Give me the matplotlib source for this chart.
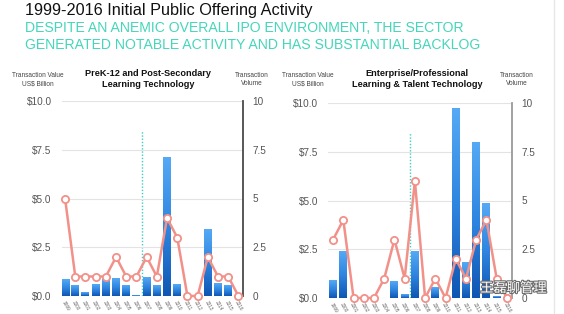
import numpy as np
import matplotlib
matplotlib.use("Agg")
import matplotlib.pyplot as plt
import matplotlib.patheffects as pe
from matplotlib.colors import LinearSegmentedColormap

plt.rcParams['font.family'] = ['Liberation Sans', 'DejaVu Sans']

years = [str(y) for y in range(1999, 2017)]

# PreK-12 and Post-Secondary Learning Technology
k12_value = [0.86, 0.56, 0.2, 0.6, 0.84, 0.9, 0.55, 0.05, 0.95, 0.55, 7.1, 0.6, 0.0, 0.0, 3.43, 0.65, 0.55, 0.0]
k12_volume = [5, 1, 1, 1, 1, 2, 1, 1, 2, 1, 4, 3, 0, 0, 2, 1, 1, 0]

# Enterprise/Professional Learning & Talent Technology
ent_value = [0.92, 2.4, 0.0, 0.0, 0.0, 0.0, 0.87, 0.2, 2.4, 0.0, 0.56, 0.0, 9.74, 1.83, 7.95, 4.85, 0.1, 0.0]
ent_volume = [3, 4, 0, 0, 0, 1, 3, 1, 6, 0, 1, 0, 2, 1, 3, 4, 1, 0]

divider_pos = 7.5
divider_top = 8.5

val_ticks = [0, 2.5, 5, 7.5, 10]
val_labels = ['$0.0', '$2.5', '$5.0', '$7.5', '$10.0']
vol_labels = ['0', '2.5', '5', '7.5', '10']

W, H = 564, 314
fig = plt.figure(figsize=(W / 100, H / 100), dpi=100)

cmap = LinearSegmentedColormap.from_list('bluegrad', ['#0f56b3', '#2f86e0', '#55a9f5'])


def px(x0, y0, x1, y1):
    return [x0 / W, 1 - y1 / H, (x1 - x0) / W, (y1 - y0) / H]


def panel(rect, values, volumes, spine_color, xlim):
    ax = fig.add_axes(rect)
    x = np.arange(len(years))
    grad = np.linspace(0, 1, 256).reshape(-1, 1)
    bw = 0.78
    bars = ax.bar(x, values, width=bw, color='#2a7fdc', zorder=2)
    for b, v in zip(bars, values):
        if v <= 0:
            continue
        ax.imshow(grad, extent=(b.get_x(), b.get_x() + bw, 0, v), origin='lower',
                  cmap=cmap, aspect='auto', zorder=2.1, interpolation='bilinear')
    ax.set_xlim(*xlim)
    ax.set_ylim(0, 10)
    ax.set_yticks(val_ticks)
    ax.set_yticklabels(val_labels)
    ax.grid(axis='y', color='#e3e3e3', linewidth=0.8, zorder=0)
    ax.tick_params(axis='y', length=0, pad=7, labelsize=7.2, labelcolor='#555555')
    ax.set_xticks(x)
    ax.set_xticklabels(years, rotation=-60, ha='left', va='top', rotation_mode='anchor')
    ax.tick_params(axis='x', length=0, pad=3, labelsize=3.4, labelcolor='#666666')
    for s in ['top', 'left', 'bottom', 'right']:
        ax.spines[s].set_visible(False)
    ax.vlines(divider_pos, 0, divider_top, colors='#3ccfc0', linestyles=(0, (1, 1.3)),
              linewidth=1.0, zorder=1.5)

    ax2 = ax.twinx()
    ax2.set_ylim(0, 10)
    ax2.set_xlim(*xlim)
    ax2.set_yticks(val_ticks)
    ax2.set_yticklabels(vol_labels)
    ax2.tick_params(axis='y', length=0, pad=7, labelsize=7.2, labelcolor='#555555')
    for s in ['top', 'left', 'bottom']:
        ax2.spines[s].set_visible(False)
    ax2.spines['right'].set_color(spine_color)
    ax2.spines['right'].set_linewidth(1.3)
    ax2.plot(x, volumes, color='#f29189', linewidth=1.8, marker='o', markersize=5.2,
             markerfacecolor='white', markeredgecolor='#f29189', markeredgewidth=1.3,
             clip_on=False, zorder=3)
    return ax, ax2


panel(px(61.5, 101, 243, 296), k12_value, k12_volume, '#4a4a4a', (-0.35, 17.45))
panel(px(328, 103, 512, 298), ent_value, ent_volume, '#9a9a9a', (-0.5, 17.5))

# titles
fig.text(25 / W, 1 - 10 / H, '1999-2016 Initial Public Offering Activity', fontsize=11.7,
         color='#111111', va='center', ha='left')
fig.text(25 / W, 1 - 27.5 / H, 'DESPITE AN ANEMIC OVERALL IPO ENVIRONMENT, THE SECTOR',
         fontsize=10.1, color='#45d6bb', va='center', ha='left')
fig.text(25 / W, 1 - 45 / H, 'GENERATED NOTABLE ACTIVITY AND HAS SUBSTANTIAL BACKLOG',
         fontsize=10.1, color='#45d6bb', va='center', ha='left')

fig.text(148 / W, 1 - 79 / H, 'PreK-12 and Post-Secondary\nLearning Technology', fontsize=6.6,
         fontweight='bold', ha='center', va='center', color='#111111', linespacing=1.15)
fig.text(417 / W, 1 - 79 / H, 'Enterprise/Professional\nLearning & Talent Technology', fontsize=6.6,
         fontweight='bold', ha='center', va='center', color='#111111', linespacing=1.15)

for cx in (38, 308):
    fig.text(cx / W, 1 - 80 / H, 'Transaction Value\nUS$ Billion', fontsize=4.7, ha='center',
             va='center', color='#444444', linespacing=1.2)
for cx in (252, 517):
    fig.text(cx / W, 1 - 80 / H, 'Transaction\nVolume', fontsize=4.7, ha='center',
             va='center', color='#444444', linespacing=1.2)

# slide border line
fig.add_artist(plt.Line2D([554 / W, 554 / W], [0, 1], color='#e6e6e6', linewidth=1.0))

# watermark
fig.text(480 / W, 1 - 288 / H, '王磊聊管理', fontsize=9.6, color='white', ha='left', va='center',
         family=['Noto Sans CJK SC', 'DejaVu Sans'],
         path_effects=[pe.withStroke(linewidth=1.6, foreground='#6a6a6a')])

fig.savefig('out.png', dpi=100, facecolor='white')
